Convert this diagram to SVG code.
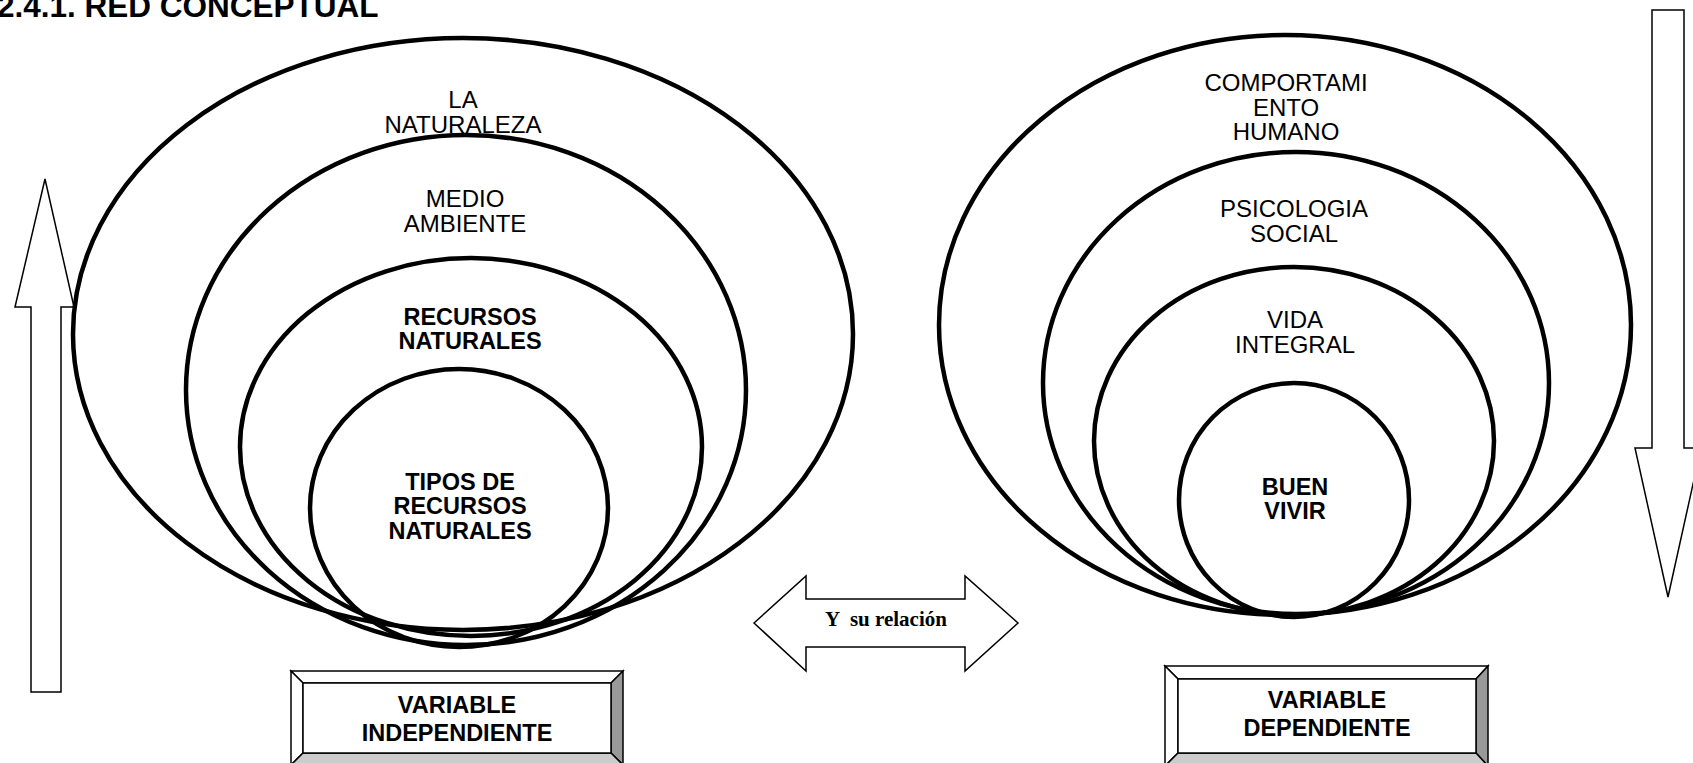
<svg xmlns="http://www.w3.org/2000/svg" width="1693" height="763" viewBox="0 0 1693 763">
<style>
.ell{fill:none;stroke:#000;stroke-width:4.5}
.arr{fill:#fff;stroke:#000;stroke-width:1.5}
.t{font-family:"Liberation Sans",Arial,sans-serif;font-size:24px;text-anchor:middle;fill:#000}
.b{font-weight:bold;font-size:23.5px}
.ser{font-family:"Liberation Serif","Times New Roman",serif;font-weight:bold;font-size:21px;text-anchor:middle}
.bx{stroke:#000;stroke-width:1.5}
</style>
<rect width="1693" height="763" fill="#fff"/>
<text x="-3" y="17" style="font-family:'Liberation Sans',Arial,sans-serif;font-weight:bold;font-size:31.5px">2.4.1. RED CONCEPTUAL</text>

<g id="connectors">
<polygon class="arr" points="45,179 74,307 61,307 61,692 31,692 31,307 15,307"/>
<polygon class="arr" points="1668,597 1701,448 1684,448 1684,10 1652,10 1652,448 1635,448"/>
<polygon class="arr" points="754,623 806,576 806,599 965,599 965,576 1018,623 965,671 965,647 806,647 806,671"/>
<text class="ser" x="886" y="626" xml:space="preserve">Y  su relación</text>
</g>

<g id="naturaleza">
<ellipse class="ell" cx="463" cy="334" rx="390" ry="296"/>
<text class="t"><tspan x="463" y="108">LA</tspan><tspan x="463" y="133">NATURALEZA</tspan></text>
</g>
<g id="medio-ambiente">
<ellipse class="ell" cx="466" cy="390" rx="280" ry="255"/>
<text class="t"><tspan x="465" y="207">MEDIO</tspan><tspan x="465" y="232">AMBIENTE</tspan></text>
</g>
<g id="recursos-naturales">
<ellipse class="ell" cx="471" cy="447" rx="231" ry="189"/>
<text class="t b"><tspan x="470" y="325">RECURSOS</tspan><tspan x="470" y="349">NATURALES</tspan></text>
</g>
<g id="tipos-recursos">
<ellipse class="ell" cx="459" cy="508" rx="149" ry="139"/>
<text class="t b"><tspan x="460" y="490">TIPOS DE</tspan><tspan x="460" y="514">RECURSOS</tspan><tspan x="460" y="539">NATURALES</tspan></text>
</g>

<g id="comportamiento">
<ellipse class="ell" cx="1285" cy="325" rx="346" ry="290"/>
<text class="t"><tspan x="1286" y="91">COMPORTAMI</tspan><tspan x="1286" y="116">ENTO</tspan><tspan x="1286" y="140">HUMANO</tspan></text>
</g>
<g id="psicologia">
<ellipse class="ell" cx="1296" cy="383" rx="253" ry="231"/>
<text class="t"><tspan x="1294" y="217">PSICOLOGIA</tspan><tspan x="1294" y="242">SOCIAL</tspan></text>
</g>
<g id="vida-integral">
<ellipse class="ell" cx="1294" cy="441" rx="200" ry="174"/>
<text class="t"><tspan x="1295" y="328">VIDA</tspan><tspan x="1295" y="353">INTEGRAL</tspan></text>
</g>
<g id="buen-vivir">
<ellipse class="ell" cx="1294" cy="500" rx="115" ry="117"/>
<text class="t b"><tspan x="1295" y="495">BUEN</tspan><tspan x="1295" y="519">VIVIR</tspan></text>
</g>

<g id="variable-independiente">
<polygon class="bx" fill="#fff" points="291,671 623,671 611,683 303,683"/>
<polygon class="bx" fill="#fff" points="291,671 303,683 303,753 291,765"/>
<polygon class="bx" fill="#999" points="623,671 623,765 611,753 611,683"/>
<polygon class="bx" fill="#ccc" points="291,765 303,753 611,753 623,765"/>
<rect class="bx" fill="#fff" x="303" y="683" width="308" height="70"/>
<text class="t b"><tspan x="457" y="713">VARIABLE</tspan><tspan x="457" y="741">INDEPENDIENTE</tspan></text>
</g>
<g id="variable-dependiente">
<polygon class="bx" fill="#fff" points="1165,666 1488,666 1476,679 1178,679"/>
<polygon class="bx" fill="#fff" points="1165,666 1178,679 1178,753 1165,766"/>
<polygon class="bx" fill="#999" points="1488,666 1488,766 1476,753 1476,679"/>
<polygon class="bx" fill="#ccc" points="1165,766 1178,753 1476,753 1488,766"/>
<rect class="bx" fill="#fff" x="1178" y="679" width="298" height="74"/>
<text class="t b"><tspan x="1327" y="708">VARIABLE</tspan><tspan x="1327" y="736">DEPENDIENTE</tspan></text>
</g>
</svg>
